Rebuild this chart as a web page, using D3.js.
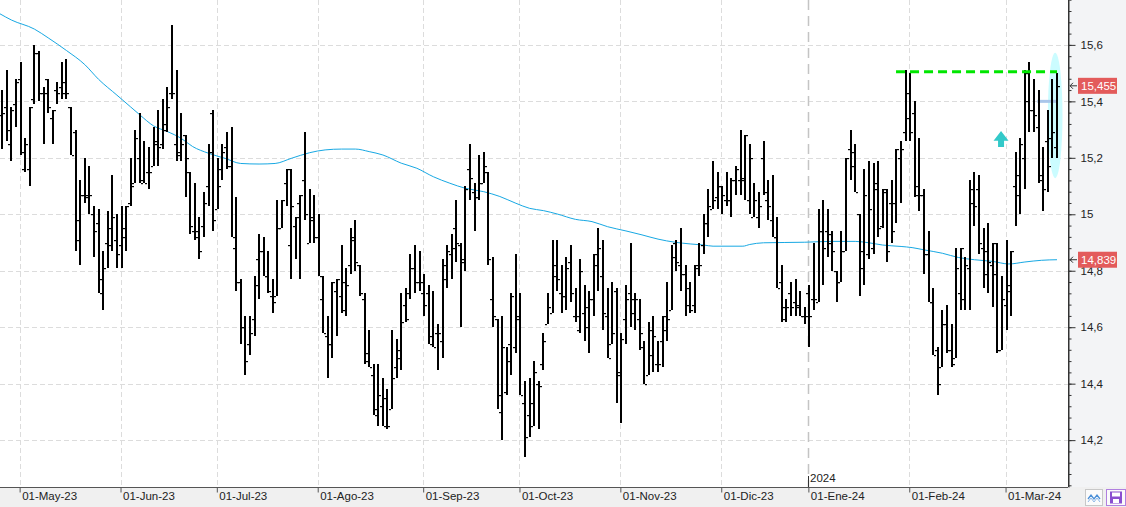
<!DOCTYPE html>
<html><head><meta charset="utf-8">
<script src="https://cdn.jsdelivr.net/npm/d3@7"></script>
<style>
html,body{margin:0;padding:0;background:#fff;}
svg{display:block;font-family:"Liberation Sans",Arial,sans-serif;}
</style></head>
<body>
<svg id="c" width="1126" height="507"></svg>
<script>
// ---------- data ----------
const monthIdx = [4, 26, 47, 69, 92, 113, 135, 157, 176, 198, 219];
const monthLabels = ["01-May-23","01-Jun-23","01-Jul-23","01-Ago-23","01-Sep-23","01-Oct-23","01-Nov-23","01-Dic-23","01-Ene-24","01-Feb-24","01-Mar-24"];
const yearIdx = 176, yearLabel = "2024";
const yTickVals = [14.2, 14.4, 14.6, 14.8, 15.0, 15.2, 15.4, 15.6];

const opens = [15.35,15.38,15.25,15.39,15.48,15.16,15.16,15.41,15.57,15.43,
15.48,15.34,15.44,15.45,15.43,15.38,15.29,14.98,15.07,15.07,
15.00,14.97,14.77,14.90,14.95,14.91,14.89,14.95,15.04,15.11,
15.20,15.12,15.15,15.17,15.26,15.25,15.30,15.43,15.25,15.21,
15.28,15.15,14.94,14.94,14.96,15.10,15.36,15.02,15.16,15.24,
15.17,14.88,14.76,14.60,14.54,14.63,14.84,14.87,14.78,14.71,
14.71,14.95,15.11,14.89,14.96,15.04,15.12,14.90,14.98,14.92,
14.70,14.57,14.54,14.73,14.71,14.76,14.82,14.91,14.82,14.70,
14.48,14.43,14.31,14.32,14.35,14.31,14.46,14.49,14.68,14.72,
14.81,14.76,14.72,14.72,14.57,14.58,14.55,14.82,14.86,14.95,
14.89,14.84,15.16,15.08,15.06,15.11,15.15,14.70,14.63,14.30,
14.37,14.54,14.53,14.64,14.33,14.29,14.33,14.40,14.47,14.61,
14.65,14.82,14.72,14.71,14.83,14.64,14.59,14.65,14.60,14.70,
14.86,14.78,14.64,14.54,14.73,14.43,14.63,14.72,14.70,14.63,
14.53,14.43,14.50,14.47,14.55,14.64,14.66,14.90,14.82,14.79,
14.74,14.68,14.81,14.89,14.97,15.02,15.06,15.10,15.05,15.05,
15.12,15.12,15.12,15.05,14.99,14.99,15.20,15.05,14.98,14.92,
14.76,14.63,14.72,14.69,14.67,14.64,14.72,14.70,14.69,14.94,
14.94,14.93,14.80,14.76,14.87,15.23,15.17,15.00,14.81,14.86,
14.88,15.09,14.96,15.09,15.04,15.04,15.20,15.29,15.34,15.36,
15.07,15.07,14.86,14.69,14.52,14.46,14.61,14.52,14.49,14.72,
14.70,14.81,15.04,15.09,14.88,14.87,14.82,14.90,14.52,14.68,
14.75,15.10,15.07,15.20,15.50,15.37,15.31,15.14,15.26,15.27,
15.24];

const highs = [15.44,15.51,15.38,15.48,15.54,15.27,15.38,15.60,15.58,15.45,
15.48,15.37,15.47,15.54,15.55,15.38,15.30,15.12,15.20,15.17,
15.03,15.02,14.87,15.01,15.14,15.00,15.03,15.03,15.20,15.30,
15.36,15.26,15.24,15.31,15.37,15.41,15.45,15.67,15.51,15.36,
15.28,15.15,15.11,14.99,15.08,15.25,15.37,15.20,15.25,15.29,
15.31,15.06,14.77,14.64,14.64,14.78,14.93,14.92,14.87,14.77,
15.05,15.05,15.16,15.16,14.99,15.07,15.29,15.09,15.07,15.00,
14.78,14.64,14.76,14.77,14.89,14.81,14.95,14.98,14.82,14.72,
14.59,14.47,14.47,14.42,14.38,14.59,14.56,14.72,14.74,14.86,
14.89,14.87,14.79,14.75,14.73,14.61,14.84,14.89,14.93,15.05,
14.90,15.10,15.25,15.11,15.21,15.22,15.15,14.85,14.63,14.64,
14.53,14.72,14.86,14.72,14.41,14.42,14.48,14.41,14.58,14.72,
14.91,14.91,14.82,14.85,14.89,14.74,14.84,14.75,14.73,14.86,
14.95,14.91,14.74,14.76,14.74,14.58,14.75,14.90,14.72,14.70,
14.55,14.62,14.64,14.55,14.64,14.76,14.89,14.91,14.95,14.82,
14.76,14.82,14.90,15.00,15.09,15.19,15.15,15.10,15.15,15.13,
15.17,15.30,15.28,15.25,15.11,15.08,15.26,15.12,15.14,14.99,
14.82,14.70,14.76,14.77,14.73,14.67,14.75,14.90,15.02,15.05,
15.02,14.94,14.80,14.94,15.20,15.30,15.25,15.00,15.16,15.19,
15.18,15.19,15.09,15.09,15.12,15.23,15.26,15.51,15.50,15.40,
15.27,15.09,14.94,14.74,14.53,14.66,14.68,14.61,14.88,14.88,
14.85,15.12,15.15,15.14,14.95,14.97,14.90,14.90,14.78,14.91,
14.87,15.22,15.27,15.51,15.54,15.48,15.44,15.24,15.37,15.48,
15.50];

const lows = [15.23,15.26,15.19,15.31,15.21,15.15,15.10,15.39,15.40,15.25,
15.36,15.25,15.39,15.41,15.41,15.21,14.87,14.82,15.04,15.00,
14.85,14.72,14.66,14.81,14.87,14.81,14.81,14.87,15.03,15.11,
15.11,15.11,15.09,15.17,15.17,15.23,15.29,15.41,15.19,15.19,
15.06,14.93,14.91,14.84,14.92,15.03,14.94,15.02,15.12,15.16,
14.92,14.73,14.54,14.43,14.50,14.57,14.70,14.78,14.72,14.65,
14.71,14.95,15.03,14.77,14.84,14.77,14.98,14.90,14.90,14.78,
14.58,14.42,14.49,14.57,14.65,14.64,14.79,14.80,14.71,14.47,
14.46,14.29,14.25,14.25,14.24,14.31,14.42,14.45,14.62,14.70,
14.72,14.73,14.64,14.54,14.53,14.45,14.49,14.74,14.77,14.83,
14.60,14.80,15.05,14.94,15.05,15.11,14.82,14.60,14.31,14.20,
14.36,14.43,14.51,14.36,14.14,14.21,14.25,14.24,14.45,14.61,
14.65,14.73,14.65,14.66,14.69,14.62,14.58,14.55,14.51,14.64,
14.73,14.59,14.49,14.54,14.33,14.26,14.54,14.60,14.59,14.52,
14.40,14.43,14.44,14.44,14.46,14.55,14.66,14.80,14.73,14.64,
14.65,14.65,14.78,14.86,14.92,15.02,15.02,15.00,15.03,14.99,
15.07,15.07,15.05,15.00,14.99,14.95,15.07,14.98,14.92,14.74,
14.62,14.62,14.64,14.64,14.64,14.61,14.53,14.66,14.69,14.75,
14.85,14.80,14.69,14.76,14.87,15.12,15.08,14.71,14.75,14.84,
14.86,14.92,14.95,14.83,14.90,14.97,15.04,15.26,15.26,15.06,
15.01,14.79,14.69,14.50,14.36,14.46,14.51,14.46,14.49,14.66,
14.66,14.66,14.96,14.86,14.74,14.72,14.67,14.51,14.52,14.59,
14.64,14.96,15.00,15.09,15.29,15.29,15.11,15.01,15.08,15.20,
15.20];

const closes = [15.36,15.30,15.37,15.47,15.22,15.25,15.38,15.57,15.43,15.43,
15.38,15.37,15.43,15.47,15.43,15.21,14.91,15.07,15.06,15.07,
14.94,14.72,14.81,14.89,14.99,14.86,14.92,15.03,15.10,15.27,
15.11,15.11,15.15,15.25,15.24,15.32,15.38,15.43,15.22,15.25,
15.20,14.96,14.92,14.87,15.04,15.22,14.98,15.10,15.22,15.17,
14.92,14.76,14.60,14.48,14.58,14.75,14.87,14.78,14.73,14.69,
14.95,15.05,15.16,15.03,14.99,15.07,15.00,14.99,14.92,14.78,
14.58,14.54,14.76,14.77,14.66,14.75,14.92,14.83,14.72,14.51,
14.46,14.29,14.36,14.25,14.25,14.42,14.52,14.62,14.63,14.81,
14.76,14.76,14.68,14.54,14.53,14.58,14.77,14.87,14.88,14.90,
14.83,15.09,15.13,15.06,15.11,15.17,14.84,14.64,14.36,14.53,
14.48,14.71,14.63,14.36,14.21,14.25,14.44,14.39,14.55,14.67,
14.78,14.77,14.71,14.81,14.72,14.64,14.80,14.67,14.70,14.82,
14.88,14.65,14.49,14.58,14.44,14.56,14.70,14.65,14.70,14.58,
14.40,14.59,14.57,14.47,14.59,14.63,14.85,14.83,14.79,14.68,
14.66,14.82,14.82,14.97,15.03,15.05,15.10,15.07,15.05,15.12,
15.16,15.13,15.28,15.20,15.05,15.03,15.08,15.03,14.92,14.74,
14.67,14.67,14.67,14.68,14.64,14.64,14.64,14.70,14.94,14.88,
14.90,14.87,14.76,14.87,15.20,15.22,15.08,14.87,15.07,15.02,
15.11,14.95,15.08,14.87,14.94,15.23,15.23,15.43,15.29,15.10,
15.07,14.86,14.69,14.50,14.40,14.61,14.52,14.47,14.81,14.88,
14.82,15.09,15.03,14.90,14.79,14.83,14.79,14.52,14.70,14.73,
14.87,15.14,15.25,15.40,15.37,15.35,15.12,15.09,15.17,15.29,
15.455];

// moving average, read at sampled bar positions
const maIdx = [-0.5,2,7,10,14,18,21,25,28,30,33,36,39,41.5,45,48.6,52,56,59.5,63,67,70.4,74,77,80,83,87,90.4,94,97.6,101,105,108.5,112,115,118,121,125,128.6,132,136,139.5,143,146.7,150,153,155,161.5,163,166,175,181,186,189,192,196,198.4,201,205,208.5,212,216,219.5,223,226.6,230];
const maVal = [15.71,15.688,15.656,15.625,15.58,15.53,15.478,15.422,15.38,15.352,15.313,15.293,15.269,15.24,15.216,15.198,15.18,15.178,15.18,15.198,15.218,15.228,15.231,15.231,15.222,15.21,15.181,15.163,15.133,15.11,15.092,15.08,15.063,15.039,15.021,15.013,15.001,14.982,14.974,14.956,14.941,14.927,14.912,14.901,14.895,14.891,14.887,14.887,14.893,14.899,14.901,14.904,14.904,14.899,14.891,14.886,14.882,14.874,14.862,14.847,14.839,14.833,14.824,14.831,14.837,14.839];

const lastPrice = 15.455, lastMA = 14.839;
const resistLevel = 15.505, resistFrom = 194.9, resistTo = 230;
const hLineLevel = 15.40, hLineFrom = 225.7, hLineTo = 230.1;
const ellipseIdx = 229.6, ellipseMid = 15.35, ellipseTop = 15.572, ellipseHalfW = 1.6;
const arrowIdx = 217.8, arrowTop = 15.295, arrowBottom = 15.238;

// ---------- layout ----------
const W = 1126, H = 507, PR = 1068, PB = 487;
const svg = d3.select("#c");
const xs = d3.scaleLinear().domain([-0.5, 232.4]).range([0, PR]);
const ys = d3.scaleLinear().domain([14.034, 15.759]).range([PB, 0]);
const fmt = v => (Math.round(v*10)/10).toString().replace(".", ",");

// backgrounds
svg.append("rect").attr("x",0).attr("y",0).attr("width",W).attr("height",H).attr("fill","#f3f4f6");
svg.append("rect").attr("x",0).attr("y",PB).attr("width",W).attr("height",H-PB).attr("fill","#f0f0f0");
svg.append("rect").attr("x",0).attr("y",0).attr("width",PR).attr("height",PB).attr("fill","#ffffff");

// grid
const grid = svg.append("g");
grid.selectAll("line.h").data(yTickVals).join("line")
  .attr("x1",0).attr("x2",PR)
  .attr("y1",d=>Math.round(ys(d))+0.5).attr("y2",d=>Math.round(ys(d))+0.5)
  .attr("stroke","#dcdcdc").attr("stroke-dasharray","5,3");
grid.selectAll("line.v").data(monthIdx.filter(d=>d!==yearIdx)).join("line")
  .attr("x1",d=>Math.round(xs(d))-0.5).attr("x2",d=>Math.round(xs(d))-0.5)
  .attr("y1",0).attr("y2",PB)
  .attr("stroke","#dcdcdc").attr("stroke-dasharray","5,3");
// year separator
svg.append("line").attr("x1",Math.round(xs(yearIdx))-0.5).attr("x2",Math.round(xs(yearIdx))-0.5)
  .attr("y1",0).attr("y2",PB).attr("stroke","#c4c4c4").attr("stroke-width",1.5)
  .attr("stroke-dasharray","10,6");
svg.append("line").attr("x1",Math.round(xs(yearIdx))-0.5).attr("x2",Math.round(xs(yearIdx))-0.5)
  .attr("y1",PB-11).attr("y2",PB).attr("stroke","#333");
svg.append("text").attr("x",Math.round(xs(yearIdx))+1).attr("y",PB-5)
  .attr("font-size",11.5).attr("fill","#222").text(yearLabel);

// ellipse highlight
const ex = xs(ellipseIdx), ey = ys(ellipseMid), ery = ys(ellipseMid) - ys(ellipseTop);
const erx = xs(ellipseIdx+ellipseHalfW) - xs(ellipseIdx);
svg.append("ellipse").attr("cx",ex).attr("cy",ey).attr("rx",erx).attr("ry",ery).attr("fill","#cbfcff");

// light-blue horizontal
svg.append("line").attr("x1",xs(hLineFrom)).attr("x2",xs(hLineTo))
  .attr("y1",ys(hLineLevel)).attr("y2",ys(hLineLevel))
  .attr("stroke","#a9c6ea").attr("stroke-width",3);

// moving average
const maData = maIdx.map((d,i)=>[d, maVal[i]]);
svg.append("path").datum(maData)
  .attr("d", d3.line().x(d=>xs(d[0])).y(d=>ys(d[1])).curve(d3.curveMonotoneX))
  .attr("fill","none").attr("stroke","#17a8e3").attr("stroke-width",1);

// OHLC bars
const bars = svg.append("g");
opens.forEach((o,i)=>{
  const x = Math.round(xs(i));
  const yh = Math.round(ys(highs[i])), yl = Math.round(ys(lows[i]));
  bars.append("rect").attr("x",x-1).attr("y",yh).attr("width",2).attr("height",Math.max(1,yl-yh)).attr("fill","#000");
  bars.append("rect").attr("x",x-3).attr("y",Math.round(ys(o))).attr("width",2).attr("height",1.2).attr("fill","#000");
  bars.append("rect").attr("x",x+1).attr("y",Math.round(ys(closes[i]))).attr("width",2).attr("height",1.2).attr("fill","#000");
});

// green resistance dashed line
svg.append("line").attr("x1",xs(resistFrom)).attr("x2",xs(resistTo))
  .attr("y1",ys(resistLevel)).attr("y2",ys(resistLevel))
  .attr("stroke","#00e600").attr("stroke-width",3).attr("stroke-dasharray","9,5");

// teal up arrow
{
  const ax = xs(arrowIdx), at = ys(arrowTop), ab = ys(arrowBottom);
  const hh = (ab-at)*0.6;
  svg.append("path")
    .attr("d",`M${ax},${at} L${ax+7.5},${at+hh} L${ax+3},${at+hh} L${ax+3},${ab} L${ax-3},${ab} L${ax-3},${at+hh} L${ax-7.5},${at+hh} Z`)
    .attr("fill","#33c9c9");
}

// right axis
const minorTicks = d3.range(14.04, 15.76, 0.04).map(v=>Math.round(v*100)/100);
svg.append("g").attr("transform",`translate(${PR+0.5},0)`)
  .call(d3.axisRight(ys).tickValues(minorTicks).tickSize(3).tickFormat("").tickSizeOuter(0))
  .call(g=>{g.select(".domain").attr("stroke","#333");g.selectAll("line").attr("stroke","#333");});
svg.append("g").attr("transform",`translate(${PR+0.5},0)`)
  .call(d3.axisRight(ys).tickValues(yTickVals).tickSize(7).tickPadding(5).tickFormat(fmt).tickSizeOuter(0))
  .call(g=>{g.select(".domain").remove();g.selectAll("line").attr("stroke","#333");
    g.selectAll("text").attr("font-size",11.5).attr("fill","#222").attr("font-family","Liberation Sans, Arial, sans-serif");});

// price badges
function badge(v){
  const y = ys(v);
  const g = svg.append("g");
  g.append("path").attr("d",`M${PR+2},${y} L${PR+9},${y} M${PR+5},${y-3} L${PR+2},${y} L${PR+5},${y+3}`)
    .attr("stroke","#333").attr("fill","none");
  g.append("rect").attr("x",PR+10).attr("y",y-8).attr("width",39).attr("height",16).attr("fill","#e35b5b");
  g.append("text").attr("x",PR+13).attr("y",y+4).attr("font-size",11.5).attr("fill","#fff")
    .text(v.toFixed(3).replace(".",","));
}
badge(lastPrice);
badge(lastMA);

// bottom axis
svg.append("g").attr("transform",`translate(0,${PB+0.5})`)
  .call(d3.axisBottom(xs).tickValues(monthIdx).tickSize(5).tickSizeOuter(0).tickFormat((d,i)=>monthLabels[i]))
  .call(g=>{
    g.select(".domain").attr("stroke","#555").attr("d",`M0,0H${PR}`);
    g.selectAll(".tick line").attr("stroke","#555").attr("transform","translate(-1,0)");
    g.selectAll("text").attr("text-anchor","start").attr("dx",1).attr("dy",4)
      .attr("font-size",11.5).attr("fill","#222").attr("font-family","Liberation Sans, Arial, sans-serif");
  });
svg.append("line").attr("x1",PR+0.5).attr("x2",PR+0.5).attr("y1",0).attr("y2",PB).attr("stroke","#333");

// bottom-right buttons
{
  const b1 = svg.append("g");
  b1.append("rect").attr("x",1085.5).attr("y",489.5).attr("width",17).attr("height",16).attr("fill","#fbfbfb").attr("stroke","#c8c8c8");
  b1.append("path").attr("d","M1088,499 L1091,495 L1094,499 L1097,495 L1100,499").attr("stroke","#4a8fd8").attr("fill","none").attr("stroke-width",1.3);
  b1.append("path").attr("d","M1088,502 L1091,498 L1094,502 L1097,498 L1100,502").attr("stroke","#8fb8e8").attr("fill","none").attr("stroke-width",1);
  const b2 = svg.append("g");
  b2.append("rect").attr("x",1106.5).attr("y",489.5).attr("width",19).attr("height",16).attr("fill","#fbfbfb").attr("stroke","#b07fe0");
  b2.append("rect").attr("x",1110).attr("y",491.5).attr("width",12).attr("height",12).attr("fill","#8a4fd0");
  b2.append("rect").attr("x",1112).attr("y",492.5).attr("width",8).attr("height",4).attr("fill","#ffffff");
  b2.append("rect").attr("x",1113).attr("y",499).attr("width",6).attr("height",4).attr("fill","#ffffff");
}
</script>
</body></html>
